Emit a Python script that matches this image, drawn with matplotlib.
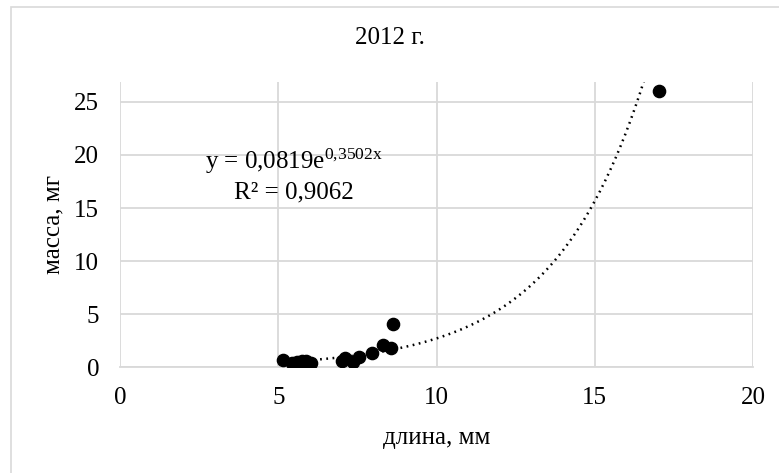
import numpy as np
import matplotlib.pyplot as plt
from matplotlib.patches import Rectangle

plt.rcParams['font.family'] = ['Liberation Serif', 'DejaVu Serif']
plt.rcParams['mathtext.fontset'] = 'custom'
plt.rcParams['mathtext.rm'] = 'Liberation Serif'
plt.rcParams['mathtext.it'] = 'Liberation Serif'

# данные (длина, мм / масса, мг)
dlina = [5.14, 5.42, 5.58, 5.74, 5.89, 6.05, 7.03, 7.10, 7.35, 7.56, 7.95, 8.31, 8.56, 8.63, 17.03]
massa = [0.69, 0.43, 0.53, 0.62, 0.60, 0.43, 0.62, 0.85, 0.53, 0.94, 1.32, 2.10, 1.79, 4.08, 26.0]

# линия тренда (экспонента из подписи)
coef_a = 0.0819
coef_b = 0.3502

xticks = [0, 5, 10, 15, 20]
yticks = [0, 5, 10, 15, 20, 25]

grid_col = '#d9d9d9'
fs = 18

fig = plt.figure(figsize=(7.79, 4.73), dpi=100)
ax = fig.add_axes([120/779, 105.7/473, 633/779, 285.6/473])

# рамка диаграммы
fig.patches.append(Rectangle((11/779, -0.1), 1.1, 1.1 - 7/473, transform=fig.transFigure,
                             fill=False, edgecolor=grid_col, linewidth=1.2))

x_tr = np.linspace(min(dlina), max(dlina), 300)
ax.plot(x_tr, coef_a*np.exp(coef_b*x_tr), color='black', linewidth=1.8,
        linestyle=(0, (0.7, 1.8)), zorder=3)
ax.plot(dlina, massa, 'o', color='black', markersize=8.8, zorder=4)

ax.set_xlim(0, 20)
ax.set_ylim(0, 26.9)
ax.set_xticks(xticks)
ax.set_yticks(yticks)
ax.grid(True, color=grid_col, linewidth=1.3)
ax.set_axisbelow(True)
for s in ax.spines.values():
    s.set_visible(False)
ax.spines['bottom'].set_visible(True)
ax.spines['bottom'].set_color(grid_col)
ax.spines['bottom'].set_linewidth(1.3)
ax.tick_params(length=0, labelsize=fs)
ax.tick_params(axis='x', pad=14)
ax.tick_params(axis='y', pad=15)

ax.set_xlabel('длина, мм', fontsize=fs, labelpad=13)
ax.set_ylabel('масса, мг', fontsize=fs, labelpad=7)
fig.text(0.5, 1 - 37.5/473, '2012 г.', ha='center', va='center', fontsize=fs)

ax.text(5.5, 19.4, r'y = 0,0819e$^{\mathrm{0{,}3502x}}$', ha='center', va='center', fontsize=fs)
ax.text(5.5, 16.5, 'R² = 0,9062', ha='center', va='center', fontsize=fs)

fig.savefig('out.png', dpi=100)
